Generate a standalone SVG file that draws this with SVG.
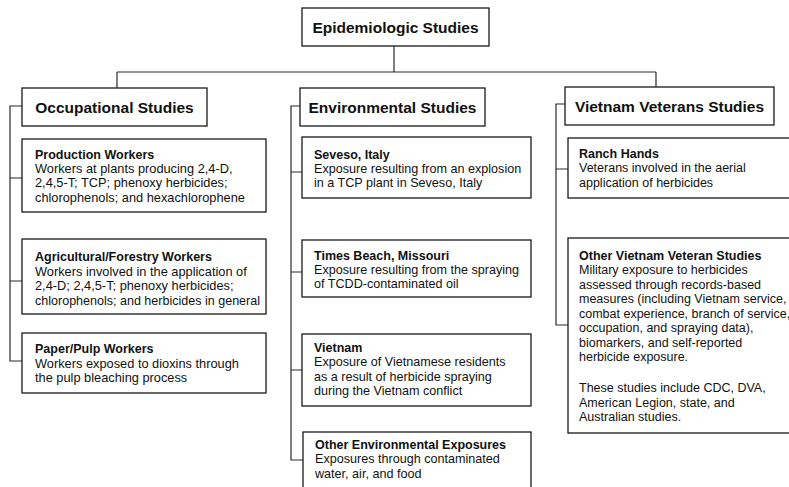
<svg xmlns="http://www.w3.org/2000/svg" width="789" height="487" viewBox="0 0 789 487">
<style>
.bg{fill:#fff}
.box{fill:#fff;stroke:#1a1a1a;stroke-width:1.3}
.ln{fill:none;stroke:#2a2a2a;stroke-width:1.2}
.h{font-family:"Liberation Sans",Arial,sans-serif;font-weight:bold;font-size:15.5px;fill:#111;text-anchor:middle}
.t{font-family:"Liberation Sans",Arial,sans-serif;font-weight:bold;font-size:12.5px;fill:#111}
.b{font-family:"Liberation Sans",Arial,sans-serif;font-size:12.6px;fill:#111}
.b1{font-family:"Liberation Sans",Arial,sans-serif;font-size:12.8px;fill:#111}
.b3{font-family:"Liberation Sans",Arial,sans-serif;font-size:12.5px;fill:#111}
</style>
<rect class="bg" x="0" y="0" width="789" height="487"/>
<g id="connectors">
<path class="ln" d="M394 46V72M117 72H656M117 72V88M656 72V88"/>
<path class="ln" d="M22 106H10V361H22M10 178H22M10 281H22"/>
<path class="ln" d="M300 106H291V460H303M291 172H302M291 272H302M291 370H302"/>
<path class="ln" d="M565 104H556V325H568M556 169H568"/>
</g>
<g id="epidemiologic">
<rect class="box" x="302" y="8" width="187" height="38"/>
<text class="h" x="395.5" y="33">Epidemiologic Studies</text>
</g>
<g id="occupational">
<rect class="box" x="22" y="88" width="185" height="38"/>
<text class="h" x="114.5" y="113">Occupational Studies</text>
</g>
<g id="environmental">
<rect class="box" x="300" y="88" width="185" height="38"/>
<text class="h" x="392.5" y="113">Environmental Studies</text>
</g>
<g id="vietnam-veterans">
<rect class="box" x="565" y="87" width="209" height="38"/>
<text class="h" x="669.5" y="112">Vietnam Veterans Studies</text>
</g>
<g id="production-workers">
<rect class="box" x="22" y="139" width="244" height="73"/>
<text class="t" x="35" y="158.5">Production Workers</text>
<text class="b1" x="35" y="172.5">Workers at plants producing 2,4-D,</text>
<text class="b1" x="35" y="187">2,4,5-T; TCP; phenoxy herbicides;</text>
<text class="b1" x="35" y="201.5">chlorophenols; and hexachlorophene</text>
</g>
<g id="agricultural-workers">
<rect class="box" x="22" y="239" width="244" height="75"/>
<text class="t" x="35" y="261">Agricultural/Forestry Workers</text>
<text class="b1" x="35" y="275.5">Workers involved in the application of</text>
<text class="b1" x="35" y="290">2,4-D; 2,4,5-T; phenoxy herbicides;</text>
<text class="b1" x="35" y="304.5" textLength="225" lengthAdjust="spacingAndGlyphs">chlorophenols; and herbicides in general</text>
</g>
<g id="paper-pulp-workers">
<rect class="box" x="22" y="333" width="244" height="60"/>
<text class="t" x="35" y="352.5">Paper/Pulp Workers</text>
<text class="b1" x="35" y="367.5">Workers exposed to dioxins through</text>
<text class="b1" x="35" y="382">the pulp bleaching process</text>
</g>
<g id="seveso">
<rect class="box" x="302" y="137" width="229" height="61"/>
<text class="t" x="314" y="158.5">Seveso, Italy</text>
<text class="b" x="314" y="172.5">Exposure resulting from an explosion</text>
<text class="b" x="314" y="187">in a TCP plant in Seveso, Italy</text>
</g>
<g id="times-beach">
<rect class="box" x="302" y="240" width="229" height="57"/>
<text class="t" x="314" y="259.5">Times Beach, Missouri</text>
<text class="b" x="314" y="273.5">Exposure resulting from the spraying</text>
<text class="b" x="314" y="288">of TCDD-contaminated oil</text>
</g>
<g id="vietnam">
<rect class="box" x="302" y="334" width="229" height="72"/>
<text class="t" x="314" y="351.5">Vietnam</text>
<text class="b" x="314" y="366">Exposure of Vietnamese residents</text>
<text class="b" x="314" y="380.5">as a result of herbicide spraying</text>
<text class="b" x="314" y="395">during the Vietnam conflict</text>
</g>
<g id="other-environmental">
<rect class="box" x="303" y="432" width="228" height="70"/>
<text class="t" x="315" y="448.5">Other Environmental Exposures</text>
<text class="b" x="315" y="463">Exposures through contaminated</text>
<text class="b" x="315" y="477.5">water, air, and food</text>
</g>
<g id="ranch-hands">
<rect class="box" x="568" y="138" width="230" height="60"/>
<text class="t" x="579" y="157.5">Ranch Hands</text>
<text class="b3" x="579" y="172">Veterans involved in the aerial</text>
<text class="b3" x="579" y="186.5">application of herbicides</text>
</g>
<g id="other-vietnam-veteran">
<rect class="box" x="568" y="238" width="230" height="195"/>
<text class="t" x="579" y="259.5">Other Vietnam Veteran Studies</text>
<text class="b3" x="579" y="274">Military exposure to herbicides</text>
<text class="b3" x="579" y="288.5">assessed through records-based</text>
<text class="b3" x="579" y="303">measures (including Vietnam service,</text>
<text class="b3" x="579" y="317.5">combat experience, branch of service,</text>
<text class="b3" x="579" y="332">occupation, and spraying data),</text>
<text class="b3" x="579" y="346.5">biomarkers, and self-reported</text>
<text class="b3" x="579" y="361">herbicide exposure.</text>
<text class="b3" x="579" y="392">These studies include CDC, DVA,</text>
<text class="b3" x="579" y="406.5">American Legion, state, and</text>
<text class="b3" x="579" y="421">Australian studies.</text>
</g>
</svg>
